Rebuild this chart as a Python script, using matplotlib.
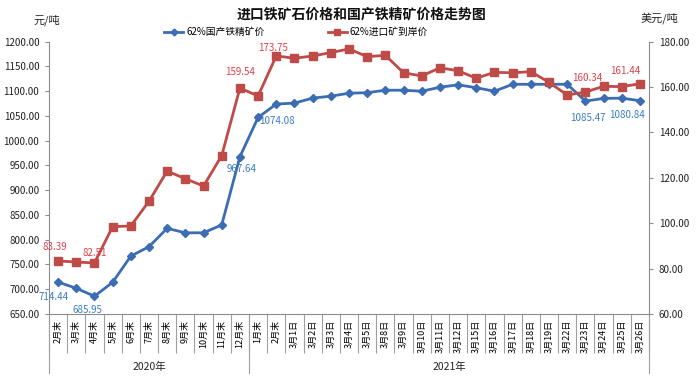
import matplotlib
matplotlib.use("Agg")
import matplotlib.pyplot as plt
from matplotlib.lines import Line2D

plt.rcParams['font.family'] = ['Noto Sans CJK SC', 'DejaVu Sans']

categories = ["2月末", "3月末", "4月末", "5月末", "6月末", "7月末", "8月末", "9月末",
              "10月末", "11月末", "12月末",
              "1月末", "2月末", "3月1日", "3月2日", "3月3日", "3月4日", "3月5日", "3月8日",
              "3月9日", "3月10日", "3月11日", "3月12日", "3月15日", "3月16日", "3月17日",
              "3月18日", "3月19日", "3月22日", "3月23日", "3月24日", "3月25日", "3月26日"]
years = ["2020年", "2021年"]
year_counts = [11, 22]

domestic = [714.44, 702, 685.95, 714, 767, 786, 823, 814, 814, 830, 967.64,
            1047, 1074.08, 1076, 1086, 1090, 1096, 1097, 1102, 1102, 1100, 1108,
            1113, 1107, 1100, 1114, 1114, 1114, 1114, 1080, 1085.47, 1086, 1080.84]
imported = [83.39, 82.9, 82.51, 98.5, 98.8, 109.7, 123, 119.6, 116.4, 129.8, 159.54,
            156.1, 173.75, 172.7, 173.7, 175.2, 176.8, 173.4, 174, 166.3, 164.9, 168.5,
            167.2, 163.9, 166.5, 166.3, 166.8, 162.1, 156.5, 157.8, 160.34, 160.2, 161.44]

domestic_name = "62%国产铁精矿价"
imported_name = "62%进口矿到岸价"

# labelled points: index -> pixel offset of label
dom_labels = {0: (-5, -15), 2: (-7, -14), 10: (2, -12), 12: (1, -17), 30: (-16, -20), 32: (-13, -14)}
imp_labels = {0: (-3, 14), 2: (0, 10), 10: (0, 16), 12: (-3, 8), 30: (-16, 8), 32: (-15, 13)}

blue = "#3C6DB4"
red = "#BE4B48"
blue_txt = "#3B7DC4"
red_txt = "#E0404A"
grey = "#8C8C8C"

W, H = 697, 379
fig = plt.figure(figsize=(W / 100, H / 100), dpi=100)
ax = fig.add_axes([49 / W, 1 - 314 / H, 600 / W, 272.3 / H])
ax2 = ax.twinx()

x = list(range(len(categories)))
ax.plot(x, domestic, color=blue, lw=2, marker='D', ms=4.5, zorder=3, clip_on=False)
ax2.plot(x, imported, color=red, lw=2, marker='s', ms=6, zorder=3, clip_on=False)

for i, (dx, dy) in dom_labels.items():
    ax.annotate(f"{domestic[i]:.2f}", (x[i], domestic[i]), xytext=(dx, dy),
                textcoords='offset pixels', ha='center', va='center',
                fontsize=7, color=blue_txt)
for i, (dx, dy) in imp_labels.items():
    ax2.annotate(f"{imported[i]:.2f}", (x[i], imported[i]), xytext=(dx, dy),
                 textcoords='offset pixels', ha='center', va='center',
                 fontsize=7, color=red_txt)

ax.set_xlim(-0.5, len(categories) - 0.5)
ax.set_ylim(650, 1200)
ax.set_yticks([650 + 50 * k for k in range(12)])
ax.set_yticklabels([f"{650 + 50 * k:.2f}" for k in range(12)], fontsize=7)
ax2.set_ylim(60, 180)
ax2.set_yticks([60 + 20 * k for k in range(7)])
ax2.set_yticklabels([f"{60 + 20 * k:.2f}" for k in range(7)], fontsize=7)

ax.set_xticks(x)
ax.set_xticklabels(categories, rotation=90, fontsize=6.5)
ax.tick_params(axis='x', which='major', length=0, pad=4)
ax.set_xticks([k - 0.5 for k in range(len(categories) + 1)], minor=True)
ax.tick_params(axis='x', which='minor', length=28, width=0.8, color="#A0A0A0", direction='out')

for a in (ax, ax2):
    a.spines['top'].set_visible(False)
    for s in ('left', 'right', 'bottom'):
        a.spines[s].set_color(grey)
        a.spines[s].set_linewidth(0.8)
ax.spines['right'].set_visible(False)
ax2.spines['left'].set_visible(False)
ax2.spines['bottom'].set_visible(False)
ax.tick_params(axis='y', length=3, color=grey, pad=4, labelcolor='#222222')
ax2.tick_params(axis='y', length=3, color=grey, pad=4, labelcolor='#222222')

# group separators and year labels
bounds = [-0.5]
for c in year_counts:
    bounds.append(bounds[-1] + c)
trans = ax.get_xaxis_transform()
for b in bounds:
    ax.plot([b, b], [0, -59 / 272.3], transform=trans, color="#A0A0A0", lw=0.8, clip_on=False)
for k, yr in enumerate(years):
    xc = (bounds[k] + bounds[k + 1]) / 2
    ax.text(xc, -53 / 272.3, yr, transform=trans, ha='center', va='center', fontsize=7.5, color='#222222')

fig.text(362 / W, 1 - 15 / H, "进口铁矿石价格和国产铁精矿价格走势图", ha='center', va='center',
         fontsize=10, fontweight='bold', color='#111111')
fig.text(47 / W, 1 - 20 / H, "元/吨", ha='center', va='center', fontsize=8, color='#222222')
fig.text(659 / W, 1 - 18 / H, "美元/吨", ha='center', va='center', fontsize=8, color='#222222')

handles = [Line2D([], [], color=blue, lw=2, marker='D', ms=3.5),
           Line2D([], [], color=red, lw=2, marker='s', ms=4.5)]
fig.legend(handles, [domestic_name, imported_name], ncol=2, loc='center',
           bbox_to_anchor=(296 / W, 1 - 32 / H), frameon=False, fontsize=7,
           handlelength=2.0, handletextpad=0.3, columnspacing=6.5)

fig.savefig("out.png", dpi=100)
